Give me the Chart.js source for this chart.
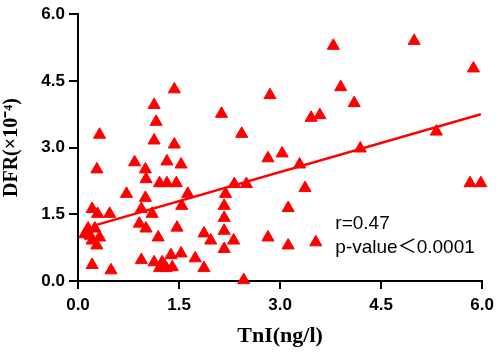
<!DOCTYPE html>
<html>
<head>
<meta charset="utf-8">
<script src="https://cdn.jsdelivr.net/npm/chart.js@4/dist/chart.umd.min.js"></script>
<style>
html, body { margin: 0; padding: 0; background: #fff; }
</style>
</head>
<body>
<canvas id="chart" width="500" height="353"></canvas>
<script>
// TnI (ng/l) vs DFR (x10^-4)
var tnI = [0.32, 0.28, 0.21, 0.29, 0.47, 0.15, 0.25, 0.21, 0.32, 0.21, 0.49, 0.10, 0.18, 0.28,
    0.72, 0.84, 1.00, 1.01, 1.00, 0.94, 1.10, 0.91, 1.01, 1.19, 0.94, 1.13, 1.21, 1.13, 1.16, 1.13, 1.21,
    1.43, 1.43, 1.32, 1.53, 1.32, 1.46, 1.63, 1.54, 1.47, 1.28, 1.38, 1.31, 1.25, 1.40, 1.53, 1.74, 1.87,
    2.13, 2.43, 2.19, 2.32, 2.50, 2.17, 2.17, 2.17, 1.87, 1.97, 2.31, 2.17, 2.46,
    2.85, 2.82, 3.03, 3.29, 3.12, 2.82, 3.12, 3.37, 3.53, 3.46, 3.59,
    3.79, 3.90, 4.10, 4.19, 4.99, 5.32, 5.87, 5.82, 5.98];
var dfr = [3.29, 2.51, 1.62, 1.51, 1.51, 1.18, 1.18, 0.91, 0.98, 0.36, 0.24, 1.05, 1.02, 0.80,
    1.96, 2.67, 2.51, 2.29, 1.87, 1.62, 1.51, 1.29, 1.18, 0.98, 0.47, 0.42, 0.29, 3.96, 3.58, 3.16, 2.20,
    4.31, 3.07, 2.69, 2.62, 2.20, 2.20, 1.96, 1.69, 1.20, 0.36, 0.58, 0.29, 0.42, 0.31, 0.62, 0.51, 0.29,
    3.76, 3.31, 1.96, 2.18, 2.18, 1.69, 1.42, 1.13, 1.07, 0.91, 0.91, 0.72, 0.02,
    4.18, 2.76, 2.87, 2.62, 1.64, 0.98, 0.80, 2.09, 0.87, 3.67, 3.73,
    5.29, 4.36, 4.00, 2.98, 5.40, 3.36, 4.78, 2.20, 2.20];

// fitted line ends
var fitX = [0.25, 5.98];
var fitY = [1.25, 3.75];

var xTicks = [0, 1.5, 3.0, 4.5, 6.0];
var yTicks = [0, 1.5, 3.0, 4.5, 6.0];
var statLines = ['r=0.47', 'p-value\uFF1C0.0001'];

var points = [];
for (var i = 0; i < tnI.length; i++) {
    points.push({ x: tnI[i], y: dfr[i] });
}
var fitLine = [];
for (var j = 0; j < fitX.length; j++) {
    fitLine.push({ x: fitX[j], y: fitY[j] });
}

var sansBold = { family: '"Liberation Sans", Arial, sans-serif', size: 17, weight: 'bold' };
var serifBold = { family: '"Liberation Serif", "Times New Roman", serif', size: 22, weight: 'bold' };

var statsText = {
    id: 'statsText',
    afterDraw: function(chart) {
        var ctx = chart.ctx;
        var xs = chart.scales.x;
        var ys = chart.scales.y;
        ctx.save();
        ctx.font = '19px "Liberation Sans", Arial, "Noto Sans CJK SC", sans-serif';
        ctx.fillStyle = '#000';
        ctx.textAlign = 'left';
        ctx.textBaseline = 'alphabetic';
        ctx.fillText(statLines[0], xs.getPixelForValue(3.82), ys.getPixelForValue(1.18));
        ctx.fillText(statLines[1], xs.getPixelForValue(3.82), ys.getPixelForValue(0.62));
        ctx.restore();
    }
};

new Chart(document.getElementById('chart'), {
    type: 'scatter',
    data: {
        datasets: [{
            type: 'line',
            data: fitLine,
            borderColor: '#ff0000',
            borderWidth: 2.5,
            pointRadius: 0,
            fill: false
        }, {
            data: points,
            pointStyle: 'triangle',
            pointRadius: 7,
            backgroundColor: '#ff0000',
            borderColor: '#ff0000',
            borderWidth: 1,
            clip: false
        }]
    },
    options: {
        responsive: false,
        animation: false,
        layout: { padding: { top: 11, right: 14, left: 0, bottom: 0 } },
        plugins: { legend: { display: false }, tooltip: { enabled: false } },
        scales: {
            x: {
                type: 'linear',
                min: 0,
                max: 6,
                afterBuildTicks: function(s) { s.ticks = xTicks.map(function(v) { return { value: v }; }); },
                afterFit: function(s) { s.height = 72; },
                border: { color: '#000', width: 2 },
                grid: { drawOnChartArea: false, color: '#000', lineWidth: 2, tickLength: 8 },
                ticks: {
                    color: '#000', font: sansBold, padding: 6, maxRotation: 0,
                    callback: function(v) { return Number(v).toFixed(1); }
                },
                title: { display: true, text: 'TnI(ng/l)', color: '#000', font: serifBold, padding: { top: 0, bottom: 3 } }
            },
            y: {
                type: 'linear',
                min: 0,
                max: 6,
                afterBuildTicks: function(s) { s.ticks = yTicks.map(function(v) { return { value: v }; }); },
                afterFit: function(s) { s.width = 78; },
                border: { color: '#000', width: 2 },
                grid: { drawOnChartArea: false, color: '#000', lineWidth: 2, tickLength: 9 },
                ticks: {
                    color: '#000', font: sansBold, padding: 4,
                    callback: function(v) { return Number(v).toFixed(1); }
                },
                title: {
                    display: true, text: 'DFR(\u00D710\u207B\u2074)', color: '#000',
                    font: { family: '"Liberation Serif", "Times New Roman", serif', size: 20, weight: 'bold' },
                    padding: { top: 0, bottom: 0 }
                }
            }
        }
    },
    plugins: [statsText]
});
</script>
</body>
</html>
